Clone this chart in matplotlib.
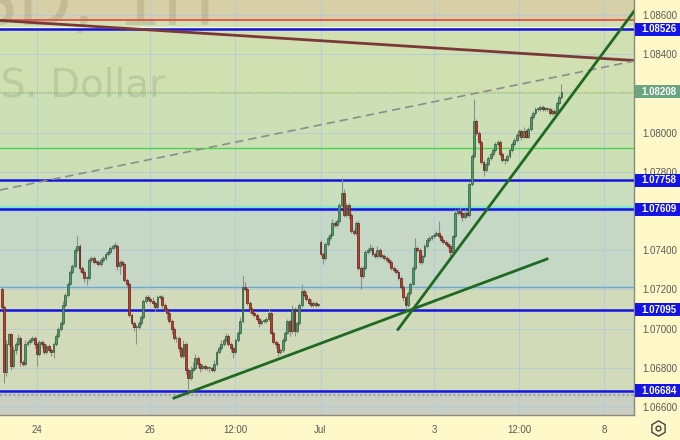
import numpy as np
import matplotlib.pyplot as plt
from matplotlib import transforms
from matplotlib.patches import Rectangle
from matplotlib.lines import Line2D

plt.rc('font', family='DejaVu Sans')

# EURUSD 1H closes, one row per trading day (Fri 21 Jun 09:00 .. Fri 5 Jul 06:00)
close_jun21 = [1.0711, 1.0678, 1.0692, 1.0697, 1.0681, 1.0689, 1.0692, 1.0695, 1.0683, 1.0682,
               1.0692, 1.0693, 1.0694, 1.0695, 1.0692]
close_jun24 = [1.0687, 1.0693, 1.0692, 1.0688, 1.0691, 1.0689, 1.0688, 1.0692, 1.0696, 1.0700, 1.0703, 1.0712,
               1.0717, 1.0723, 1.0729, 1.0732, 1.0740, 1.0742, 1.0731, 1.0729, 1.0726, 1.0726, 1.0735, 1.0736]
close_jun25 = [1.0734, 1.0734, 1.0733, 1.0735, 1.0736, 1.0738, 1.0739, 1.0741, 1.0742, 1.0742, 1.0732, 1.0734,
               1.0733, 1.0725, 1.0723, 1.0707, 1.0703, 1.0701, 1.0701, 1.0703, 1.0706, 1.0714, 1.0716, 1.0715]
close_jun26 = [1.0714, 1.0713, 1.0711, 1.0716, 1.0716, 1.0712, 1.0710, 1.0708, 1.0704, 1.0700, 1.0695, 1.0695,
               1.0690, 1.0686, 1.0692, 1.0679, 1.0675, 1.0679, 1.0680, 1.0685, 1.0682, 1.0680, 1.0681, 1.0680]
close_jun27 = [1.0680, 1.0680, 1.0679, 1.0682, 1.0688, 1.0690, 1.0692, 1.0694, 1.0696, 1.0692, 1.0690, 1.0688,
               1.0694, 1.0698, 1.0704, 1.0721, 1.0720, 1.0713, 1.0710, 1.0708, 1.0707, 1.0705, 1.0703, 1.0704]
close_jun28 = [1.0704, 1.0705, 1.0708, 1.0698, 1.0693, 1.0692, 1.0688, 1.0689, 1.0694, 1.0698, 1.0704, 1.0699,
               1.0710, 1.0699, 1.0703, 1.0712, 1.0719, 1.0717, 1.0715, 1.0713, 1.0712, 1.0713, 1.0712, 1.0712]
close_jul01 = [1.0738, 1.0736, 1.0743, 1.0746, 1.0748, 1.0754, 1.0753, 1.0755, 1.0763, 1.0769, 1.0758, 1.0763,
               1.0758, 1.0750, 1.0749, 1.0754, 1.0731, 1.0727, 1.0731, 1.0739, 1.0740, 1.0741, 1.0738, 1.0737]
close_jul02 = [1.0740, 1.0737, 1.0737, 1.0736, 1.0735, 1.0734, 1.0731, 1.0730, 1.0729, 1.0726, 1.0721, 1.0716,
               1.0712, 1.0718, 1.0723, 1.0731, 1.0741, 1.0740, 1.0734, 1.0737, 1.0742, 1.0745, 1.0746, 1.0747]
close_jul03 = [1.0748, 1.0749, 1.0747, 1.0745, 1.0744, 1.0743, 1.0742, 1.0739, 1.0747, 1.0759, 1.0760, 1.0759,
               1.0757, 1.0759, 1.0758, 1.0774, 1.0788, 1.0806, 1.0800, 1.0795, 1.0785, 1.0781, 1.0784, 1.0787]
close_jul04 = [1.0789, 1.0791, 1.0794, 1.0795, 1.0789, 1.0786, 1.0786, 1.0788, 1.0791, 1.0794, 1.0796, 1.0799,
               1.0801, 1.0798, 1.0801, 1.0798, 1.0802, 1.0808, 1.0810, 1.0812, 1.0812, 1.0813, 1.0812, 1.0812]
close_jul05 = [1.0812, 1.0810, 1.0811, 1.0810, 1.0815, 1.0818, 1.08208]

# wicks beyond the body, in pips
wick_up = [1, 1, 2, 1, 1, 2, 1, 2, 1, 1, 2, 1, 1, 1, 1,
           1, 1, 1, 1, 1, 1, 1, 1, 1, 1, 1, 2, 1, 1, 1, 1, 1, 5, 1, 1, 1, 1, 1, 1,
           1, 1, 1, 1, 1, 1, 1, 1, 1, 2, 1, 1, 1, 1, 1, 1, 1, 1, 1, 1, 1, 1, 1, 1,
           1, 2, 1, 1, 1, 1, 1, 1, 1, 1, 1, 1, 1, 1, 2, 1, 1, 2, 3, 2, 1, 1, 1, 1,
           1, 1, 1, 2, 1, 1, 2, 1, 2, 1, 1, 1, 1, 1, 2, 6, 3, 1, 1, 1, 1, 1, 1, 1,
           1, 1, 2, 1, 1, 1, 1, 1, 1, 1, 1, 1, 2, 1, 1, 1, 4, 1, 2, 1, 2, 1, 1, 1,
           1, 1, 1, 1, 1, 2, 1, 1, 1, 8, 2, 1, 1, 1, 1, 1, 1, 1, 1, 1, 1, 2, 1, 1,
           2, 1, 1, 1, 1, 1, 1, 1, 1, 1, 1, 1, 1, 1, 1, 1, 5, 1, 1, 1, 1, 1, 1, 1,
           1, 1, 6, 1, 1, 1, 1, 1, 1, 2, 1, 2, 1, 2, 1, 1, 1, 11, 1, 1, 1, 1, 1, 1,
           1, 1, 1, 1, 1, 1, 1, 1, 1, 1, 1, 1, 1, 1, 2, 1, 1, 1, 1, 1, 1, 1, 1, 1,
           1, 1, 1, 1, 1, 1, 4]
wick_dn = [1, 6, 2, 1, 2, 1, 2, 1, 2, 1, 1, 1, 1, 1, 2,
           6, 1, 2, 1, 1, 1, 2, 3, 1, 1, 1, 1, 1, 1, 1, 1, 1, 1, 2, 1, 2, 4, 1, 1,
           1, 1, 1, 1, 1, 1, 1, 1, 1, 1, 2, 4, 1, 1, 2, 1, 1, 2, 9, 1, 1, 1, 1, 1,
           1, 1, 2, 1, 1, 2, 1, 3, 1, 3, 1, 2, 2, 1, 1, 2, 7, 1, 1, 1, 2, 2, 1, 1,
           1, 2, 1, 1, 1, 1, 1, 1, 1, 1, 2, 3, 1, 1, 1, 1, 1, 1, 2, 1, 1, 1, 2, 1,
           1, 1, 1, 1, 1, 2, 2, 1, 1, 1, 1, 3, 1, 3, 1, 1, 1, 1, 1, 1, 1, 1, 1, 1,
           1, 3, 1, 1, 1, 1, 1, 1, 1, 1, 1, 1, 2, 1, 1, 1, 1, 7, 1, 1, 1, 1, 1, 1,
           1, 1, 1, 1, 1, 1, 1, 1, 1, 1, 1, 2, 2, 1, 1, 1, 1, 1, 1, 1, 1, 1, 1, 1,
           1, 1, 1, 1, 1, 1, 1, 2, 1, 1, 1, 1, 2, 1, 1, 1, 1, 1, 1, 1, 1, 3, 1, 1,
           1, 1, 1, 1, 1, 1, 2, 1, 1, 1, 1, 1, 1, 2, 1, 1, 1, 1, 1, 1, 1, 1, 1, 1,
           1, 1, 1, 1, 1, 1, 1]

first_open = 1.0720
monday_open = 1.0744      # gap at the Jul 1 open
first_bar = -0.625        # Fri 21 Jun 09:00, in trading days from Mon 24 Jun

blue_levels = [1.08526, 1.07758, 1.07609, 1.07095, 1.06684]
last_price = 1.08208
red_level = 1.08574
green_level = 1.07921
lightblue_level = 1.07212
dotted_level = 1.06661

band_edges = [1.0875, 1.08574, 1.08208, 1.07758, 1.07609, 1.07212, 1.06684, 1.0650]
band_colors = ['#D7CFA7', '#D1E0B1', '#CCDFB5', '#C9DFBE', '#C5D7C5', '#D2DBB9', '#C9CFC3']

# trend lines as (day, price) end points
brown_x, brown_y = [-0.653, 10.53], [1.08572, 1.08368]
dash_x, dash_y = [-0.653, 10.53], [1.07707, 1.08365]
steep_x, steep_y = [6.367, 10.635], [1.06996, 1.0866]
support_x, support_y = [2.416, 8.995], [1.06646, 1.07355]

xtick_pos = [0, 2, 3.5, 5, 7, 8.5, 10]
xtick_lab = ['24', '26', '12:00', 'Jul', '3', '12:00', '8']
ytick_pos = [1.066, 1.068, 1.070, 1.072, 1.074, 1.076, 1.078, 1.080, 1.082, 1.084, 1.086]
ytick_lab = ['1.06600', '1.06800', '1.07000', '1.07200', '1.07400', '', '1.07800', '1.08000', '',
             '1.08400', '1.08600']

closes = np.array(close_jun21 + close_jun24 + close_jun25 + close_jun26 + close_jun27 + close_jun28
                  + close_jul01 + close_jul02 + close_jul03 + close_jul04 + close_jul05)
opens = np.concatenate([[first_open], closes[:-1]])
opens[len(close_jun21) + 24 * 5] = monday_open
x = first_bar + np.arange(len(closes)) / 24.0
highs = np.maximum(opens, closes) + np.array(wick_up) * 0.0001
lows = np.minimum(opens, closes) - np.array(wick_dn) * 0.0001

fig = plt.figure(figsize=(6.8, 4.4), dpi=100)
fig.patch.set_facecolor('#FFF8C8')
ax = fig.add_axes([0, 25 / 440, 634 / 680, 415 / 440])
ax.set_xlim(-0.6526, 10.529)
ax.set_ylim(1.065592, 1.086765)

for i in range(len(band_colors)):
    ax.axhspan(band_edges[i + 1], band_edges[i], color=band_colors[i], lw=0, zorder=0)

ax.set_axisbelow(True)
ax.grid(True, color='#B3CADC', lw=0.6)

# watermark
ax.text(215 / 634, 1 - 25 / 415, 'EURUSD, 1H', transform=ax.transAxes, ha='right', va='baseline',
        fontsize=51, color='#4A4A3A', alpha=0.14, zorder=0.6)
ax.text(165 / 634, 1 - 97 / 415, 'Euro / U.S. Dollar', transform=ax.transAxes, ha='right',
        va='baseline', fontsize=28, color='#4A4A3A', alpha=0.14, zorder=0.6)

# horizontal levels
ax.axhline(red_level, color='#E0504A', lw=1.3, zorder=2)
ax.axhline(1.08539, color='#F4F6EC', lw=1.0, zorder=2)
ax.axhline(last_price, color='#A8C83A', lw=1.0, ls=(0, (1, 1)), zorder=2)
ax.axhline(green_level, color='#4DD24D', lw=1.0, zorder=2)
ax.axhline(1.07622, color='#86E6C8', lw=2.5, zorder=2)
ax.axhline(lightblue_level, color='#6AAAD4', lw=1.0, zorder=2)
ax.axhline(dotted_level, color='#A0A4A0', lw=1.6, ls=(0, (1, 1)), zorder=2)
for lv in blue_levels:
    ax.axhline(lv, color='#1414E0', lw=1.8, zorder=2)

# candles
up = closes >= opens
ax.vlines(x, lows, highs, color='#8E8E8E', lw=0.8, zorder=3)
body = np.where(np.abs(closes - opens) < 0.00004, 0.00004, closes - opens)
ax.bar(x[up], body[up], bottom=opens[up], width=0.8 / 24, color='#4E9A6C',
       edgecolor='#2C5C3C', lw=0.5, zorder=4)
ax.bar(x[~up], body[~up], bottom=opens[~up], width=0.8 / 24, color='#C63A2C',
       edgecolor='#5C1E16', lw=0.5, zorder=4)

# trend lines
ax.plot(brown_x, brown_y, color='#7A3838', lw=2.0, zorder=5)
ax.plot(dash_x, dash_y, color='#8C8C8C', lw=1.2, ls=(0, (5, 3)), zorder=5)
ax.plot(steep_x, steep_y, color='#1E6A22', lw=2.0, zorder=5)
ax.plot(support_x, support_y, color='#1E6A22', lw=2.0, zorder=5)

# axes
ax.yaxis.tick_right()
ax.set_yticks(ytick_pos)
ax.set_yticklabels(ytick_lab, family='Liberation Sans')
ax.set_xticks(xtick_pos)
ax.set_xticklabels(xtick_lab, family='Liberation Sans')
ax.tick_params(axis='y', length=0, pad=6, labelsize=7, labelcolor='#5A5A5A')
ax.tick_params(axis='x', length=0, pad=7, labelsize=7, labelcolor='#5A5A5A')
for s in ['top', 'left']:
    ax.spines[s].set_visible(False)
for s in ['right', 'bottom']:
    ax.spines[s].set_color('#8A8A80')
    ax.spines[s].set_linewidth(1.0)

# price labels on the scale
tr = transforms.blended_transform_factory(fig.transFigure, ax.transData)
box_h = 13 / 19600.0
for lv, fc in [(b, '#1414E6') for b in blue_levels] + [(last_price, '#6AA582')]:
    fig.add_artist(Rectangle((635 / 680, lv - box_h / 2), 45 / 680, box_h, transform=tr,
                             facecolor=fc, edgecolor='none', zorder=5))
    fig.text(659 / 680, lv, '%.5f' % lv, transform=tr, ha='center', va='center',
             fontsize=7, fontweight='bold', family='Liberation Sans', color='white', zorder=6)

# settings icon
fig.add_artist(Line2D([658 / 680], [1 - 428 / 440], marker='h', ms=11, mfc='none', mec='#444444',
                      mew=1.0, transform=fig.transFigure))
fig.add_artist(Line2D([658 / 680], [1 - 428 / 440], marker='o', ms=3.5, mfc='none', mec='#444444',
                      mew=1.0, transform=fig.transFigure))

plt.savefig('out.png', dpi=100, facecolor=fig.get_facecolor())
